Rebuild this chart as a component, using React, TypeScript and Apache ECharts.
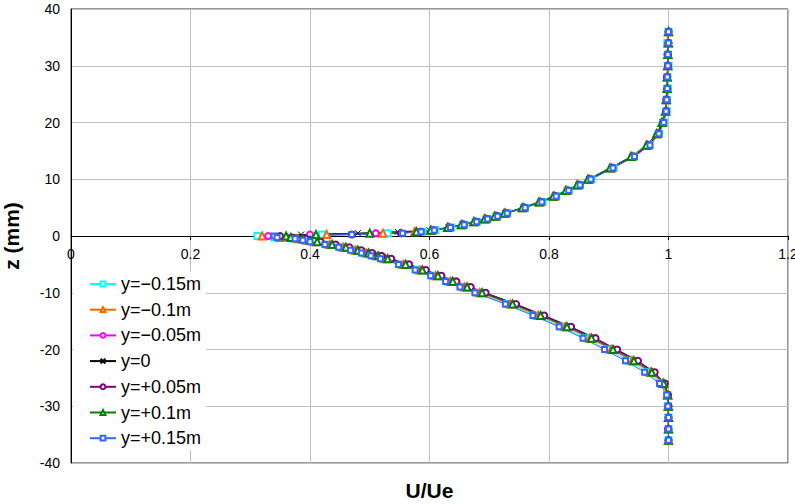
import React, { useEffect, useRef } from "react";
import * as echarts from "echarts";

// z positions (mm), shared by all profiles
const zValues = [
  36, 34, 32, 30, 28, 26, 24, 22, 20, 18, 16, 14, 12, 10, 9, 8, 7, 6, 5, 4, 3.5, 3, 2.5, 2, 1.5, 1, 0.75, 0.5, 0.25, 0,
  -0.25, -0.5, -0.75, -1, -1.5, -2, -2.5, -3, -3.5, -4, -5, -6, -7, -8, -9, -10, -12, -14, -16, -18, -20, -22, -24, -26,
  -28, -30, -32, -34, -36,
];

const seriesNames = ["y=\u22120.15m", "y=\u22120.1m", "y=\u22120.05m", "y=0", "y=+0.05m", "y=+0.1m", "y=+0.15m"];

// U/Ue values for each spanwise position
const uYm015 = [
  1.0, 0.998, 0.999, 1.0, 0.998, 0.999, 0.997, 0.997, 0.992, 0.984, 0.968, 0.942, 0.908, 0.871, 0.852, 0.833, 0.812, 0.789, 0.76, 0.73, 0.713, 0.697, 0.679, 0.658, 0.636, 0.61, 0.588, 0.53, 0.42, 0.312,
  0.34, 0.372, 0.39, 0.403, 0.428, 0.452, 0.472, 0.49, 0.506, 0.522, 0.552, 0.58, 0.606, 0.631, 0.655, 0.68, 0.73, 0.777, 0.821, 0.862, 0.898, 0.934, 0.965, 0.988, 0.998, 0.999, 1.0, 1.0, 1.0,
];
const uYm010 = [
  1.0, 0.999, 0.999, 0.998, 0.998, 0.997, 0.997, 0.995, 0.99, 0.981, 0.965, 0.939, 0.904, 0.867, 0.849, 0.83, 0.809, 0.785, 0.757, 0.727, 0.711, 0.694, 0.676, 0.655, 0.632, 0.603, 0.575, 0.522, 0.428, 0.32,
  0.35, 0.38, 0.395, 0.408, 0.433, 0.456, 0.476, 0.494, 0.51, 0.526, 0.556, 0.584, 0.61, 0.635, 0.659, 0.684, 0.735, 0.782, 0.827, 0.868, 0.904, 0.939, 0.97, 0.99, 0.998, 0.999, 1.0, 1.0, 1.0,
];
const uYm005 = [
  1.0, 1.0, 0.998, 0.999, 0.997, 0.998, 0.996, 0.996, 0.991, 0.983, 0.966, 0.941, 0.906, 0.869, 0.851, 0.832, 0.811, 0.787, 0.759, 0.729, 0.713, 0.696, 0.678, 0.657, 0.634, 0.606, 0.58, 0.51, 0.4, 0.33,
  0.362, 0.388, 0.401, 0.413, 0.438, 0.461, 0.481, 0.499, 0.515, 0.531, 0.561, 0.589, 0.615, 0.64, 0.664, 0.689, 0.74, 0.787, 0.832, 0.873, 0.909, 0.944, 0.974, 0.993, 0.999, 1.0, 1.0, 0.999, 1.0,
];
const uY0 = [
  1.0, 0.999, 1.0, 0.998, 0.999, 0.997, 0.997, 0.996, 0.99, 0.982, 0.967, 0.941, 0.905, 0.867, 0.849, 0.83, 0.81, 0.786, 0.757, 0.727, 0.711, 0.694, 0.676, 0.655, 0.632, 0.6, 0.547, 0.48, 0.385, 0.34,
  0.365, 0.39, 0.403, 0.416, 0.441, 0.464, 0.484, 0.502, 0.518, 0.534, 0.564, 0.592, 0.618, 0.643, 0.667, 0.692, 0.743, 0.79, 0.835, 0.876, 0.912, 0.947, 0.976, 0.994, 0.999, 1.0, 0.999, 1.0, 1.0,
];
const uYp005 = [
  1.0, 1.0, 0.999, 0.999, 0.998, 0.998, 0.997, 0.996, 0.991, 0.983, 0.967, 0.941, 0.906, 0.869, 0.851, 0.832, 0.811, 0.787, 0.759, 0.729, 0.713, 0.696, 0.678, 0.657, 0.634, 0.607, 0.585, 0.552, 0.47, 0.35,
  0.37, 0.393, 0.406, 0.418, 0.443, 0.466, 0.486, 0.504, 0.52, 0.536, 0.566, 0.594, 0.62, 0.645, 0.669, 0.694, 0.745, 0.792, 0.837, 0.878, 0.914, 0.949, 0.977, 0.994, 0.999, 1.0, 1.0, 1.0, 1.0,
];
const uYp010 = [
  1.0, 1.0, 0.999, 0.999, 0.998, 0.998, 0.996, 0.995, 0.989, 0.98, 0.963, 0.937, 0.902, 0.865, 0.847, 0.828, 0.807, 0.783, 0.755, 0.725, 0.709, 0.692, 0.674, 0.653, 0.63, 0.602, 0.578, 0.5, 0.41, 0.36,
  0.368, 0.387, 0.4, 0.412, 0.437, 0.46, 0.48, 0.498, 0.514, 0.53, 0.56, 0.588, 0.614, 0.639, 0.663, 0.688, 0.739, 0.786, 0.83, 0.871, 0.907, 0.942, 0.972, 0.992, 0.999, 1.0, 1.0, 1.0, 1.0,
];
const uYp015 = [
  1.0, 1.0, 0.999, 0.999, 0.998, 0.998, 0.997, 0.996, 0.992, 0.984, 0.969, 0.943, 0.907, 0.87, 0.852, 0.833, 0.812, 0.788, 0.76, 0.73, 0.714, 0.697, 0.679, 0.658, 0.635, 0.608, 0.586, 0.555, 0.47, 0.34,
  0.345, 0.375, 0.388, 0.4, 0.425, 0.448, 0.468, 0.486, 0.502, 0.518, 0.548, 0.576, 0.602, 0.627, 0.651, 0.676, 0.727, 0.773, 0.817, 0.857, 0.893, 0.928, 0.96, 0.985, 0.997, 0.999, 1.0, 1.0, 1.0,
];

const profiles = [uYm015, uYm010, uYm005, uY0, uYp005, uYp010, uYp015];
const colors = ["#00FFFF", "#FF6600", "#FF00FF", "#000000", "#800080", "#008000", "#3366FF"];
const symbols = [
  "emptyRect",
  "emptyTriangle",
  "emptyCircle",
  "path://M0,0L10,10M10,0L0,10",
  "emptyCircle",
  "emptyTriangle",
  "emptyRect",
];
const symbolSizes = [6, 7, 6, 6, 6, 7, 5];

const FONT = "'Liberation Sans', Arial, sans-serif";

export default function App() {
  const ref = useRef<HTMLDivElement>(null);

  useEffect(() => {
    if (!ref.current) return;
    const chart = echarts.init(ref.current, null, { renderer: "svg" });

    const series = profiles.map((u, k) => ({
      name: seriesNames[k],
      type: "line",
      data: zValues.map((z, i) => [u[i], z]),
      symbol: symbols[k],
      symbolSize: symbolSizes[k],
      showAllSymbol: true,
      lineStyle: { width: 1, color: colors[k] },
      itemStyle:
        k === 3
          ? { color: colors[k], borderColor: colors[k], borderWidth: 1 }
          : { color: colors[k], borderWidth: 1 },
      emphasis: { disabled: true },
    }));

    chart.setOption({
      animation: false,
      backgroundColor: "#ffffff",
      textStyle: { fontFamily: FONT },
      grid: {
        left: 71,
        right: 7,
        top: 9,
        bottom: 41,
        outerBoundsMode: "none",
        containLabel: false,
        show: true,
        borderColor: "#333333",
        borderWidth: 1,
        backgroundColor: "transparent",
      },
      legend: {
        data: seriesNames,
        orient: "vertical",
        left: 73,
        top: 272,
        backgroundColor: "#ffffff",
        padding: [3, 5, 3, 16],
        itemWidth: 26,
        itemHeight: 6,
        itemGap: 7.7,
        textStyle: { fontSize: 18, color: "#000", fontFamily: FONT, lineHeight: 18 },
      },
      xAxis: {
        type: "value",
        position: "bottom",
        offset: -227,
        min: 0,
        max: 1.2,
        interval: 0.2,
        name: "U/Ue",
        nameLocation: "middle",
        nameGap: 244,
        nameTextStyle: { fontSize: 21, fontWeight: "bold", color: "#000", fontFamily: FONT },
        axisLine: { show: true, onZero: false, lineStyle: { color: "#000", width: 1 } },
        axisTick: { show: true, length: 4, lineStyle: { color: "#000" } },
        axisLabel: { fontSize: 14, color: "#000", margin: 11, fontFamily: FONT },
        splitLine: { show: true, lineStyle: { color: "#c0c0c0", width: 1 } },
      },
      yAxis: {
        type: "value",
        min: -40,
        max: 40,
        interval: 10,
        name: "z (mm)",
        nameLocation: "middle",
        nameRotate: 90,
        nameGap: 49,
        nameTextStyle: { fontSize: 21, fontWeight: "bold", color: "#000", fontFamily: FONT },
        axisLine: { show: true, onZero: false, lineStyle: { color: "#000", width: 1 } },
        axisTick: { show: false },
        axisLabel: { fontSize: 14, color: "#000", margin: 11, fontFamily: FONT },
        splitLine: { show: true, lineStyle: { color: "#c0c0c0", width: 1 } },
      },
      series,
    });

    return () => chart.dispose();
  }, []);

  return (
    <div
      ref={ref}
      style={{ position: "absolute", left: 0, top: 0, width: 795, height: 504, background: "#fff" }}
    />
  );
}
